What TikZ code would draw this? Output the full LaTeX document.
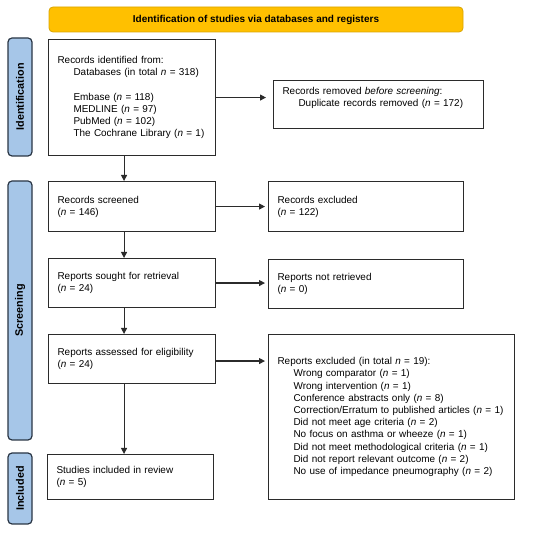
\documentclass[tikz,border=0pt]{standalone}
\usepackage{fontspec}
\setmainfont{Liberation Sans}
\usetikzlibrary{arrows.meta, positioning, calc}
\definecolor{pfInk}{HTML}{2B2B2B}
\definecolor{pfGold}{HTML}{FFC000}
\definecolor{pfGoldEdge}{HTML}{D9A400}
\definecolor{pfBlue}{HTML}{A6C6E8}
\definecolor{pfNavy}{HTML}{2A3645}
\newcommand{\nn}{\textit{n}}
\newcommand{\ind}{\hspace*{16pt}}
\tikzset{
  box/.style={
    draw=pfInk, line width=1.1pt, fill=white, anchor=north west,
    inner xsep=9pt, inner ysep=0pt, align=left,
    font=\fontsize{9.95}{12.2}\selectfont, text=black
  },
  banner/.style={
    draw=pfGoldEdge, line width=0.8pt, fill=pfGold, rounded corners=4pt,
    minimum width=414pt, minimum height=25pt, inner sep=0pt,
    font=\fontsize{10}{12}\selectfont\bfseries
  },
  phase/.style={
    draw=pfNavy, line width=1.2pt, fill=pfBlue, rounded corners=4pt,
    rotate=90, minimum height=24pt, inner sep=0pt,
    font=\fontsize{10.8}{12}\selectfont\bfseries
  },
  flow/.style={-{Triangle[length=6pt, width=6pt]}, line width=1.1pt, draw=pfInk},
}

\begin{document}
\begin{tikzpicture}[x=1pt, y=-1pt]
  \useasboundingbox (0,0) rectangle (550,537);

  \node[banner] (head) at (256,19.5) {Identification of studies via databases and registers};

  \node[phase, minimum width=118pt] (pid)  at (20,97)    {Identification};
  \node[phase, minimum width=259pt] (pscr) at (20,310.5) {Screening};
  \node[phase, minimum width=71pt]  (pinc) at (20,488.5) {Included};

  \node[box, text width=149pt, minimum height=116pt] (ident) at (48,39)
    {Records identified from:\\
     \ind Databases (in total \nn{} = 318)\\[12pt]
     \ind Embase (\nn{} = 118)\\
     \ind MEDLINE (\nn{} = 97)\\
     \ind PubMed (\nn{} = 102)\\
     \ind The Cochrane Library (\nn{} = 1)};
  \node[box, text width=192pt, minimum height=48pt] (removed) at (273,80)
    {Records removed \textit{before screening}:\\
     \ind Duplicate records removed (\nn{} = 172)\\ \strut};

  \node[box, text width=149pt, minimum height=50pt] (screened) at (48,181)
    {Records screened\\(\nn{} = 146)};
  \node[box, text width=177pt, minimum height=50pt] (excl) at (268,181)
    {Records excluded\\(\nn{} = 122)};

  \node[box, text width=149pt, minimum height=49pt] (sought) at (48,258)
    {Reports sought for retrieval\\(\nn{} = 24)};
  \node[box, text width=177pt, minimum height=49pt] (notret) at (268,259)
    {Reports not retrieved\\(\nn{} = 0)};

  \node[box, text width=149pt, minimum height=49pt] (assessed) at (48,334)
    {Reports assessed for eligibility\\(\nn{} = 24)};
  \node[box, text width=228pt, minimum height=165pt] (repexcl) at (268,334)
    {Reports excluded (in total \nn{} = 19):\\
     \ind Wrong comparator (\nn{} = 1)\\
     \ind Wrong intervention (\nn{} = 1)\\
     \ind Conference abstracts only (\nn{} = 8)\\
     \ind Correction/Erratum to published articles (\nn{} = 1)\\
     \ind Did not meet age criteria (\nn{} = 2)\\
     \ind No focus on asthma or wheeze (\nn{} = 1)\\
     \ind Did not meet methodological criteria (\nn{} = 1)\\
     \ind Did not report relevant outcome (\nn{} = 2)\\
     \ind No use of impedance pneumography (\nn{} = 2)};

  \node[box, text width=148pt, minimum height=45pt] (incl) at (47,454)
    {Studies included in review\\(\nn{} = 5)};

  \draw[flow] ([xshift=-8pt]ident.south) -- ([xshift=-8pt]ident.south |- screened.north);
  \draw[flow] ([xshift=-8pt]screened.south) -- ([xshift=-8pt]screened.south |- sought.north);
  \draw[flow] ([xshift=-8pt]sought.south) -- ([xshift=-8pt]sought.south |- assessed.north);
  \draw[flow] ([xshift=-8pt]assessed.south) -- ([xshift=-8pt]assessed.south |- incl.north);

  \draw[flow, shorten >=7pt] (ident.east) -- (ident.east -| removed.west);
  \draw[flow, shorten >=3pt] (screened.east) -- (screened.east -| excl.west);
  \draw[flow, shorten >=3pt] (sought.east) -- (sought.east -| notret.west);
  \draw[flow, shorten >=3pt] ([yshift=-2pt]assessed.east) -- ([yshift=-2pt]assessed.east -| repexcl.west);
\end{tikzpicture}
\end{document}
